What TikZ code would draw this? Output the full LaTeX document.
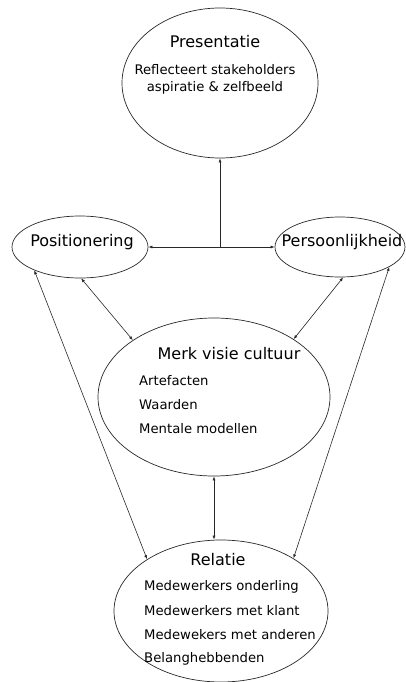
\documentclass[tikz,border=0pt]{standalone}
\usepackage{fontspec}
\setmainfont{DejaVu Sans}
\usetikzlibrary{shapes.geometric, arrows.meta}
\definecolor{linegray}{RGB}{40, 40, 40}
\tikzset{
    bubble/.style={draw=linegray, ellipse, inner sep=0pt, line width=.7pt},
    bubbletitle/.style={font=\fontsize{16}{19}\selectfont, inner sep=0pt},
    bubbleitem/.style={font=\fontsize{13.2}{16}\selectfont, inner sep=0pt,
        anchor=west},
    twoway/.style={{Latex[length=4pt, width=3pt]}-{Latex[length=4pt, width=3pt]},
        draw=linegray, line width=.6pt},
    oneway/.style={-{Latex[length=4pt, width=3pt]}, draw=linegray,
        line width=.6pt},
}

\begin{document}
\begin{tikzpicture}[x=1pt, y=-1pt]
    \useasboundingbox (0, 0) rectangle (405, 682);
    % ellipses
    \node[bubble, minimum width=196pt, minimum height=150pt] (pres) at (220, 83) {};
    \node[bubble, minimum width=136pt, minimum height=62pt] (posi) at (80, 247) {};
    \node[bubble, minimum width=130pt, minimum height=60pt] (pers) at (340, 247) {};
    \node[bubble, minimum width=232pt, minimum height=158pt] (merk) at (214, 397) {};
    \node[bubble, minimum width=214pt, minimum height=142pt] (rel) at (221, 611) {};
    % texts
    \node[bubbletitle] (presT) at (215, 42) {Presentatie};
    \node[bubbletitle, font=\fontsize{13.2}{16}\selectfont] (presA) at (215, 70)
        {Reflecteert stakeholders};
    \node[bubbletitle, font=\fontsize{13.2}{16}\selectfont] (presB) at (215, 88)
        {aspiratie \& zelfbeeld};
    \node[bubbletitle] (posiT) at (82, 242) {Positionering};
    \node[bubbletitle] (persT) at (342, 242) {Persoonlijkheid};
    \node[bubbletitle] (merkT) at (229, 354) {Merk visie cultuur};
    \node[bubbleitem] (merkA) at (139, 381) {Artefacten};
    \node[bubbleitem] (merkB) at (139, 405) {Waarden};
    \node[bubbleitem] (merkC) at (139, 429) {Mentale modellen};
    \node[bubbletitle] (relT) at (218, 560) {Relatie};
    \node[bubbleitem] (relA) at (144, 587) {Medewerkers onderling};
    \node[bubbleitem] (relB) at (144, 611) {Medewerkers met klant};
    \node[bubbleitem] (relC) at (144, 635) {Medewekers met anderen};
    \node[bubbleitem] (relD) at (144, 659) {Belanghebbenden};
    % connectors
    \draw[twoway] (posi.east) -- (pers.west);
    \draw[oneway] (pres.south |- posi.east) -- (pres.south);
    \draw[twoway] (posi.207) -- (rel.145);
    \draw[twoway] (posi.272) -- (merk.145);
    \draw[twoway] (pers.276) -- (merk.36);
    \draw[twoway] (pers.338) -- (rel.36);
    \draw[twoway] (merk.south) -- (merk.south |- rel.north);
\end{tikzpicture}
\end{document}
